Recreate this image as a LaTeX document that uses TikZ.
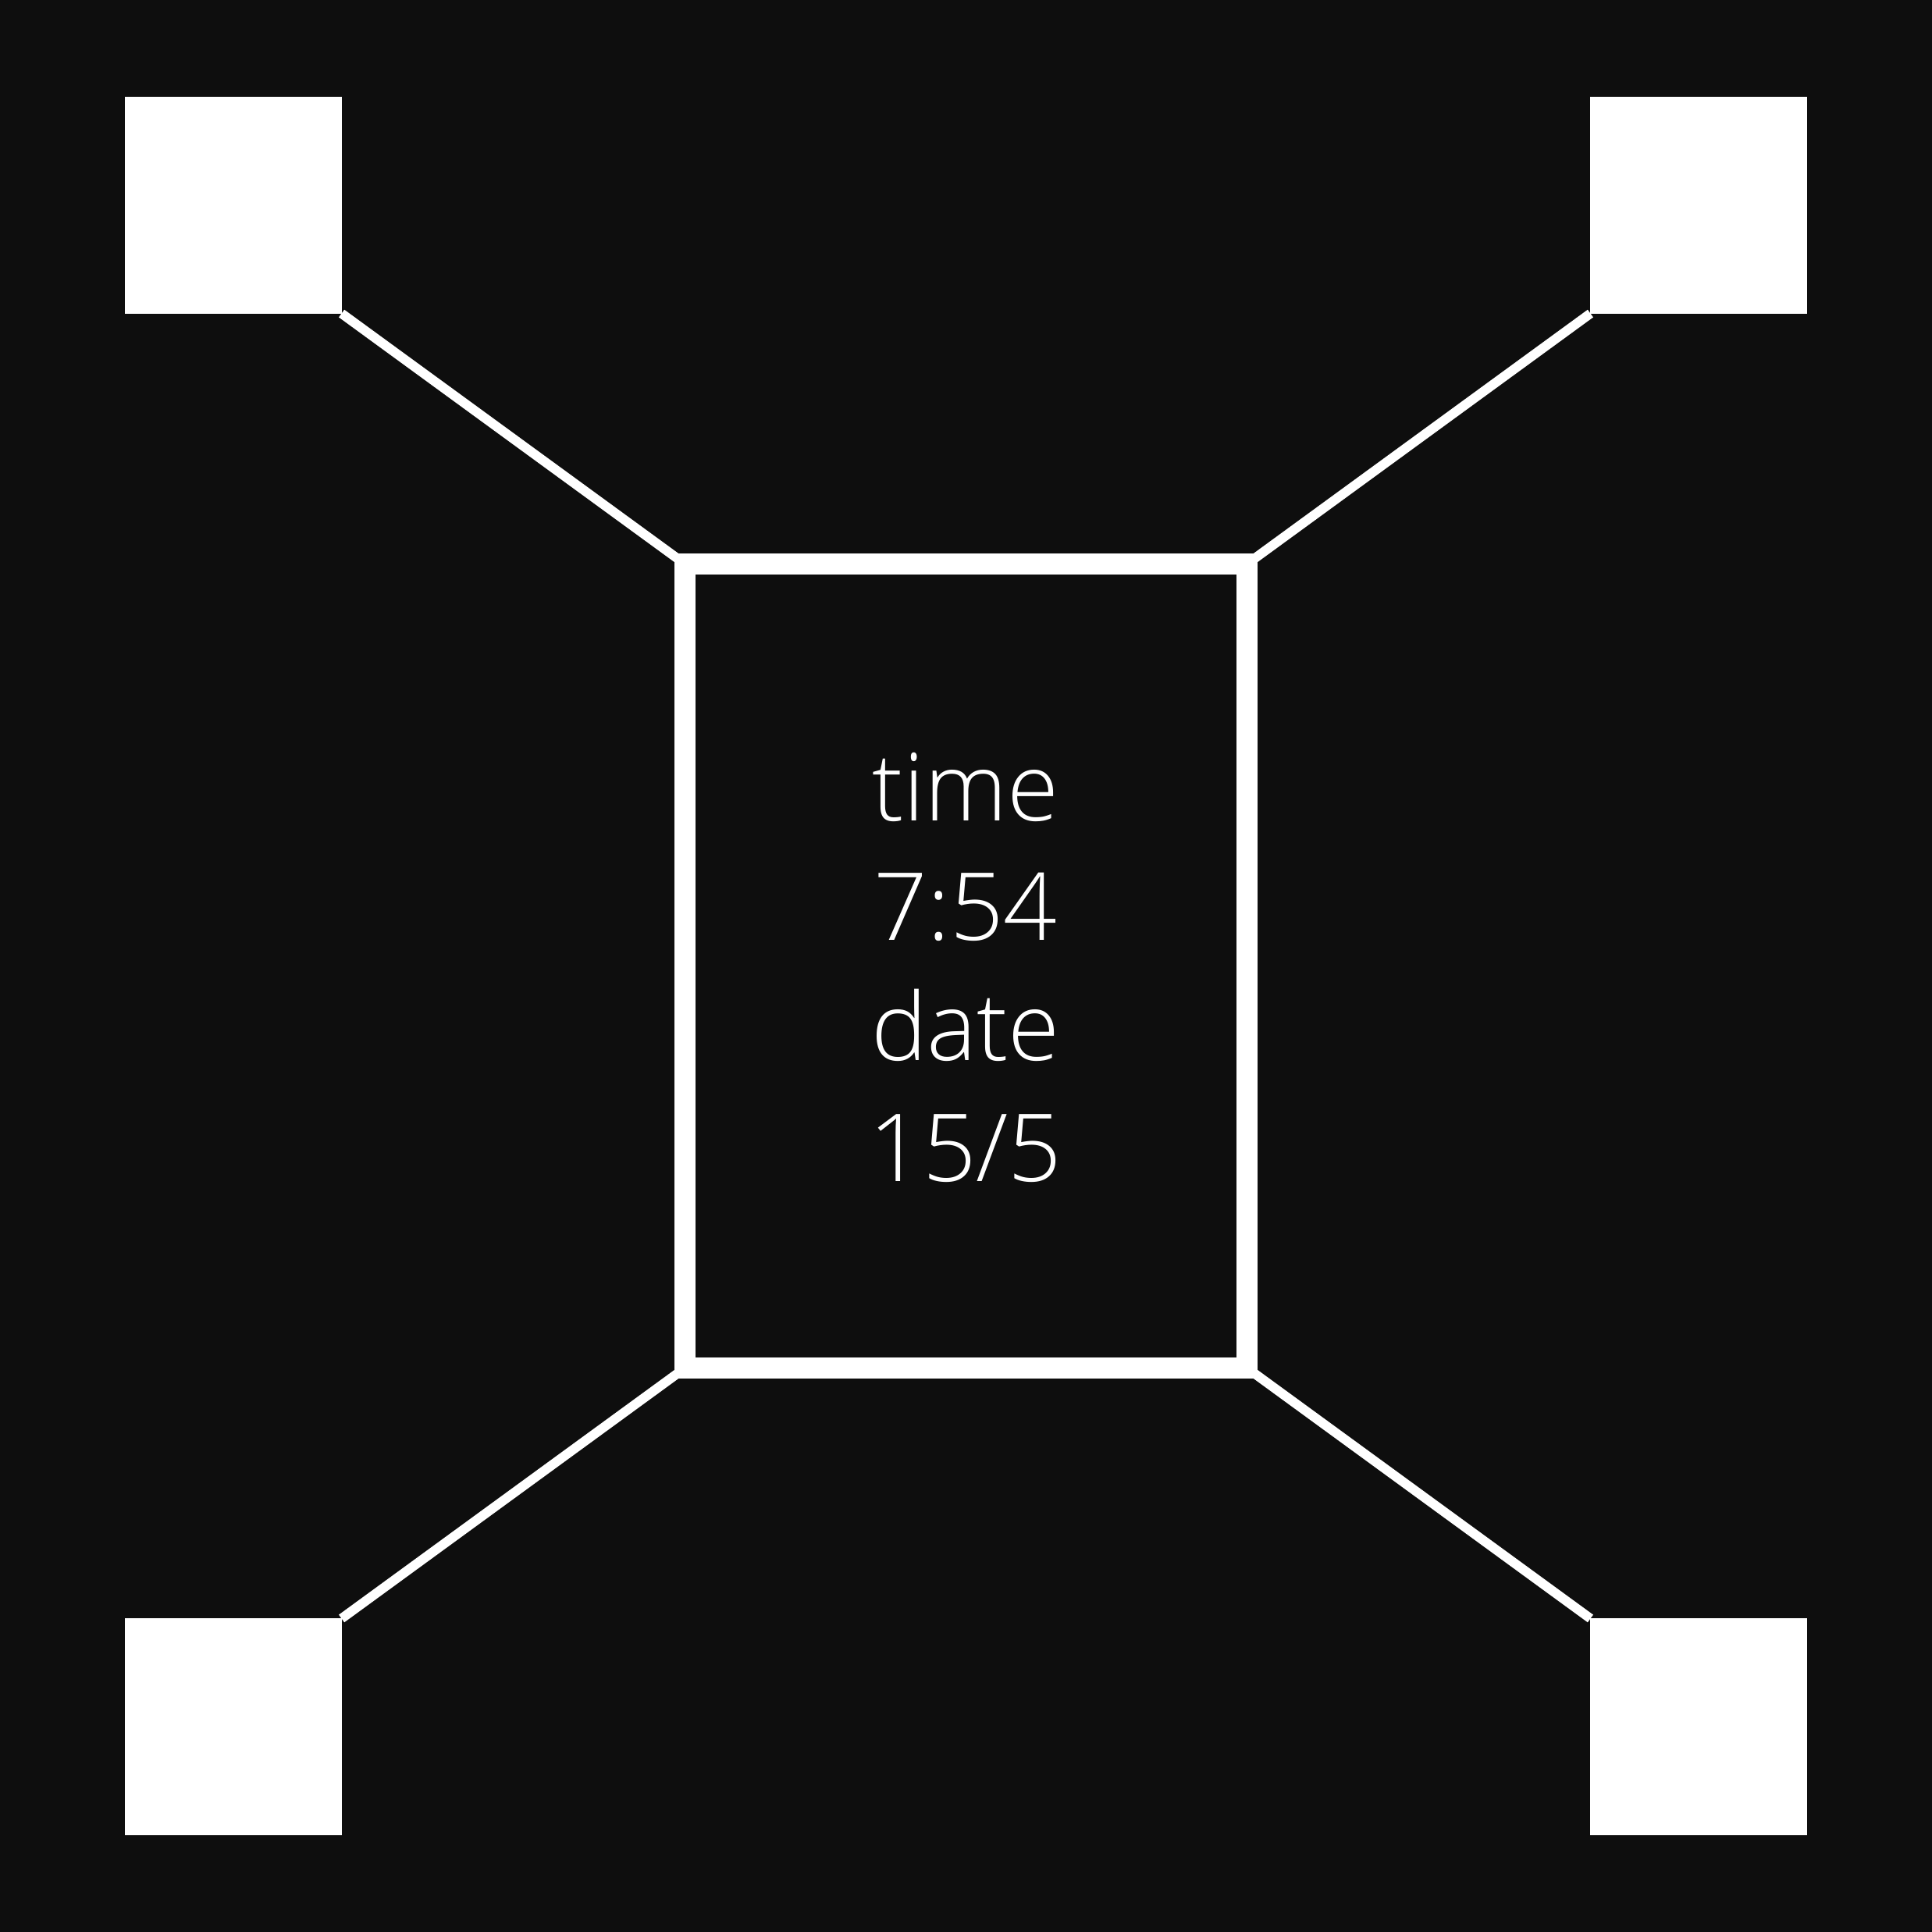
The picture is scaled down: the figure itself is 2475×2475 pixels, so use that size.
\documentclass[tikz,border=0pt]{standalone}
\usepackage{fontspec}
\setmainfont{Open Sans Light}
\usetikzlibrary{backgrounds}
\definecolor{bg}{RGB}{14,14,14}
\begin{document}
\begin{tikzpicture}[x=0.01cm,y=-0.01cm,
  corner/.style={fill=white,draw=none,minimum size=2.775cm,inner sep=0pt,outer sep=0pt},
  screen/.style={draw=white,line width=0.27cm,minimum width=7.19cm,minimum height=10.29cm,inner sep=0pt,outer sep=0pt},
  wire/.style={draw=white,line width=0.12cm},
  label/.style={text=white,anchor=base,inner sep=0pt,font=\fontsize{34.2}{40}\selectfont}]
\useasboundingbox (0,0) rectangle (2475,2475);
\node[corner] (tl) at (298.75,262.75) {};
\node[corner] (tr) at (2176.25,262.75) {};
\node[corner] (bl) at (298.75,2212.25) {};
\node[corner] (br) at (2176.25,2212.25) {};
\node[screen] (scr) at (1237.5,1237.5) {};
\begin{scope}[on background layer]
\fill[bg] (0,0) rectangle (2475,2475);
\draw[wire] (tl.south east) -- (scr.north west);
\draw[wire] (tr.south west) -- (scr.north east);
\draw[wire] (bl.north east) -- (scr.south west);
\draw[wire] (br.north west) -- (scr.south east);
\end{scope}
\node[label] (t1) at (1237,1051) {time};
\node[label] (t2) at (1237,1204) {7:54};
\node[label] (t3) at (1237,1358) {date};
\node[label] (t4) at (1237,1513) {15/5};
\end{tikzpicture}
\end{document}
